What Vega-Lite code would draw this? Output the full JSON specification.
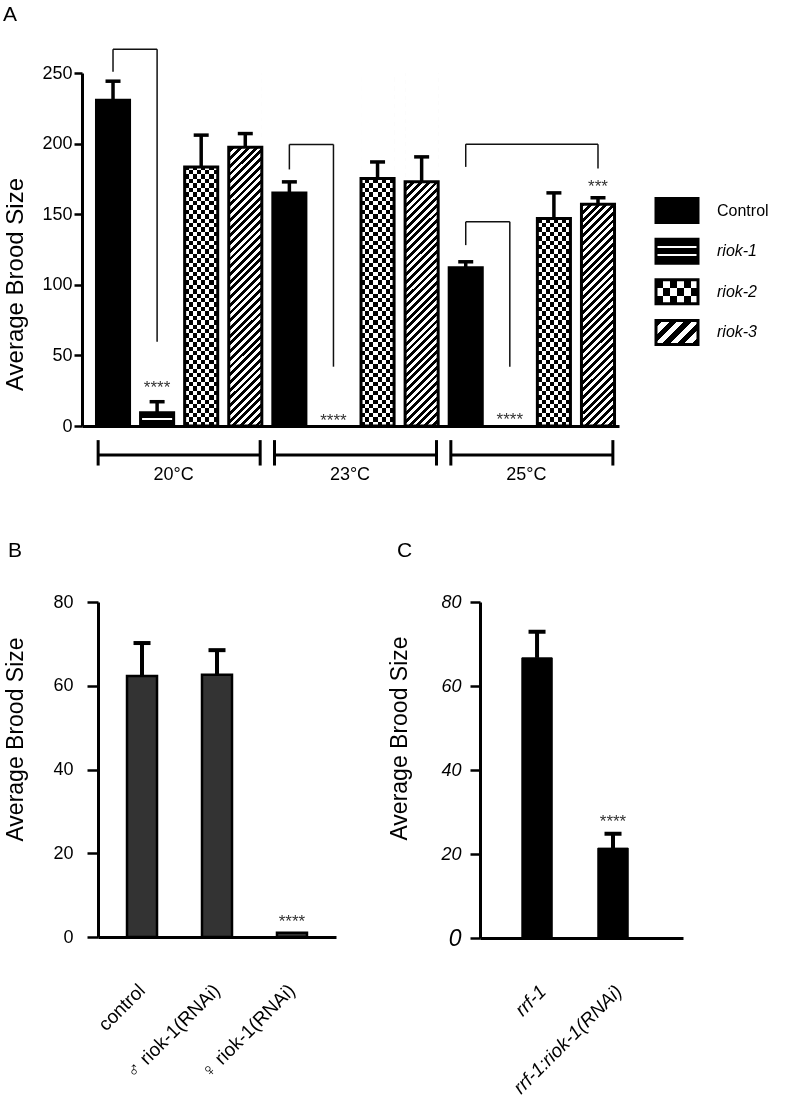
{
"$schema": "https://vega.github.io/schema/vega-lite/v6.json",
"background": "white",
"padding": {"left": 2, "top": 3, "right": 0, "bottom": 0},
"config": {
  "font": "Liberation Sans",
  "view": {"stroke": null},
  "axis": {"grid": false, "domainColor": "#000", "tickColor": "#000", "labelColor": "#000", "titleColor": "#000", "titleFontWeight": "normal", "labelFont": "Liberation Sans", "titleFont": "Liberation Sans"},
  "title": {"font": "Liberation Sans", "fontWeight": "normal", "color": "#000"}
},
"datasets": {
  "barsA": [
    {"bar": "20 Control", "series": "Control", "v": 230.7, "e": 244.2},
    {"bar": "20 riok-1", "series": "riok-1", "v": 9.4, "e": 17.2},
    {"bar": "20 riok-2", "series": "riok-2", "v": 183.5, "e": 206.0},
    {"bar": "20 riok-3", "series": "riok-3", "v": 197.4, "e": 207.1},
    {"bar": "23 Control", "series": "Control", "v": 165.1, "e": 172.9},
    {"bar": "23 riok-1", "series": "riok-1", "v": 0, "e": null},
    {"bar": "23 riok-2", "series": "riok-2", "v": 175.3, "e": 187.0},
    {"bar": "23 riok-3", "series": "riok-3", "v": 172.9, "e": 190.6},
    {"bar": "25 Control", "series": "Control", "v": 112.0, "e": 116.3},
    {"bar": "25 riok-1", "series": "riok-1", "v": 0, "e": null},
    {"bar": "25 riok-2", "series": "riok-2", "v": 147.0, "e": 165.1},
    {"bar": "25 riok-3", "series": "riok-3", "v": 157.1, "e": 161.6}
  ],
  "sigA": [
    {"bar": "20 riok-1", "y": 30.6, "t": "****"},
    {"bar": "23 riok-1", "y": 7.1, "t": "****"},
    {"bar": "25 riok-1", "y": 7.8, "t": "****"},
    {"bar": "25 riok-3", "y": 172.9, "t": "***"}
  ],
  "bracketsA": [
    {"a": "20 Control", "b": "20 riok-1", "ya": 250.9, "yt": 266.8, "yb": 59.7},
    {"a": "23 Control", "b": "23 riok-1", "ya": 181.7, "yt": 199.4, "yb": 42.0},
    {"a": "25 Control", "b": "25 riok-1", "ya": 128.1, "yt": 144.6, "yb": 42.0},
    {"a": "25 Control", "b": "25 riok-3", "ya": 183.5, "yt": 199.6, "yb": 182.4}
  ],
  "groupsA": [
    {"g": "20°C", "a": "20 Control", "m": "20 riok-1", "b": "20 riok-3"},
    {"g": "23°C", "a": "23 Control", "m": "23 riok-1", "b": "23 riok-3"},
    {"g": "25°C", "a": "25 Control", "m": "25 riok-1", "b": "25 riok-3"}
  ],
  "legend": [
    {"series": "Control", "idx": 1},
    {"series": "riok-1", "idx": 2},
    {"series": "riok-2", "idx": 3},
    {"series": "riok-3", "idx": 4}
  ],
  "barsB": [
    {"g": "control", "v": 62.3, "e": 70.2},
    {"g": "♂ riok-1(RNAi)", "v": 62.6, "e": 68.5},
    {"g": "♀ riok-1(RNAi)", "v": 1.0, "e": null, "sig": "****", "sy": 4.8}
  ],
  "barsC": [
    {"g": "rrf-1", "v": 66.7, "e": 72.9},
    {"g": "rrf-1:riok-1(RNAi)", "v": 21.4, "e": 24.8, "sig": "****", "sy": 28.8}
  ]
},
"spacing": 56,
"vconcat": [
  {
    "spacing": 0,
    "hconcat": [
      {"width": 1, "height": 1, "data": {"values": []}, "mark": "point"},
      {
        "spacing": 35,
        "hconcat": [
          {
            "width": 537,
            "height": 353,
            "title": {"text": "A", "anchor": "start", "frame": "group", "dx": -79, "offset": 24, "fontSize": 21},
            "layer": [
              {
                "data": {"name": "barsA"},
                "transform": [{"filter": "datum.series === 'Control'"}],
                "mark": {"type": "bar", "fill": "#000", "stroke": "#000", "strokeWidth": 1, "opacity": 1},
                "encoding": {
                  "x": {"field": "bar", "type": "nominal",
                        "scale": {"domain": ["20 Control", "20 riok-1", "20 riok-2", "20 riok-3", "23 Control", "23 riok-1", "23 riok-2", "23 riok-3", "25 Control", "25 riok-1", "25 riok-2", "25 riok-3"], "paddingInner": 0.25, "paddingOuter": 0.215, "align": 0.764},
                        "axis": {"title": null, "labels": false, "ticks": false, "domainWidth": 3}},
                  "y": {"field": "v", "type": "quantitative",
                        "scale": {"domain": [0, 250], "nice": false},
                        "axis": {"values": [0, 50, 100, 150, 200, 250], "title": "Average Brood Size", "titleFontSize": 24, "titleX": -60, "titleY": 211, "titleBaseline": "alphabetic", "titleAlign": "center", "labelFontSize": 18, "labelPadding": 2, "tickSize": 8, "tickWidth": 2.5, "domainWidth": 3}}
                }
              },
              {
                "data": {"name": "barsA"},
                "transform": [{"filter": "datum.series === 'riok-1' && datum.v > 0"}],
                "mark": {"type": "bar", "opacity": 1, "fill": {"gradient": "linear", "x1": 0, "y1": 0, "x2": 0, "y2": 1, "stops": [{"offset": 0, "color": "#000"}, {"offset": 0.42, "color": "#000"}, {"offset": 0.42, "color": "#fff"}, {"offset": 0.56, "color": "#fff"}, {"offset": 0.56, "color": "#000"}, {"offset": 1, "color": "#000"}]}},
                "encoding": {"x": {"field": "bar", "type": "nominal"}, "y": {"field": "v", "type": "quantitative"}}
              },
              {
                "data": {"name": "barsA"},
                "transform": [{"filter": "datum.series === 'riok-2'"}],
                "mark": {"type": "bar", "opacity": 1, "fill": {"gradient": "linear", "x1": 0, "y1": 0, "x2": 1, "y2": 0, "stops": [
                  {"offset": 0, "color": "#fff"}, {"offset": 0.125, "color": "#fff"}, {"offset": 0.125, "color": "#000"}, {"offset": 0.25, "color": "#000"},
                  {"offset": 0.25, "color": "#fff"}, {"offset": 0.375, "color": "#fff"}, {"offset": 0.375, "color": "#000"}, {"offset": 0.5, "color": "#000"},
                  {"offset": 0.5, "color": "#fff"}, {"offset": 0.625, "color": "#fff"}, {"offset": 0.625, "color": "#000"}, {"offset": 0.75, "color": "#000"},
                  {"offset": 0.75, "color": "#fff"}, {"offset": 0.875, "color": "#fff"}, {"offset": 0.875, "color": "#000"}, {"offset": 1, "color": "#000"}]}},
                "encoding": {"x": {"field": "bar", "type": "nominal"}, "y": {"field": "v", "type": "quantitative"}}
              },
              {
                "data": {"name": "barsA"},
                "transform": [{"filter": "datum.series === 'riok-2'"}],
                "mark": {"type": "rect", "opacity": 1, "blend": "difference", "fill": {"gradient": "linear", "x1": 0, "y1": 0, "x2": 0, "y2": 1, "stops": [
{"offset":0,"color":"#000"},{"offset":0.0125,"color":"#000"},{"offset":0.0125,"color":"#fff"},{"offset":0.025,"color":"#fff"},
{"offset":0.025,"color":"#000"},{"offset":0.0375,"color":"#000"},{"offset":0.0375,"color":"#fff"},{"offset":0.05,"color":"#fff"},
{"offset":0.05,"color":"#000"},{"offset":0.0625,"color":"#000"},{"offset":0.0625,"color":"#fff"},{"offset":0.075,"color":"#fff"},
{"offset":0.075,"color":"#000"},{"offset":0.0875,"color":"#000"},{"offset":0.0875,"color":"#fff"},{"offset":0.1,"color":"#fff"},
{"offset":0.1,"color":"#000"},{"offset":0.1125,"color":"#000"},{"offset":0.1125,"color":"#fff"},{"offset":0.125,"color":"#fff"},
{"offset":0.125,"color":"#000"},{"offset":0.1375,"color":"#000"},{"offset":0.1375,"color":"#fff"},{"offset":0.15,"color":"#fff"},
{"offset":0.15,"color":"#000"},{"offset":0.1625,"color":"#000"},{"offset":0.1625,"color":"#fff"},{"offset":0.175,"color":"#fff"},
{"offset":0.175,"color":"#000"},{"offset":0.1875,"color":"#000"},{"offset":0.1875,"color":"#fff"},{"offset":0.2,"color":"#fff"},
{"offset":0.2,"color":"#000"},{"offset":0.2125,"color":"#000"},{"offset":0.2125,"color":"#fff"},{"offset":0.225,"color":"#fff"},
{"offset":0.225,"color":"#000"},{"offset":0.2375,"color":"#000"},{"offset":0.2375,"color":"#fff"},{"offset":0.25,"color":"#fff"},
{"offset":0.25,"color":"#000"},{"offset":0.2625,"color":"#000"},{"offset":0.2625,"color":"#fff"},{"offset":0.275,"color":"#fff"},
{"offset":0.275,"color":"#000"},{"offset":0.2875,"color":"#000"},{"offset":0.2875,"color":"#fff"},{"offset":0.3,"color":"#fff"},
{"offset":0.3,"color":"#000"},{"offset":0.3125,"color":"#000"},{"offset":0.3125,"color":"#fff"},{"offset":0.325,"color":"#fff"},
{"offset":0.325,"color":"#000"},{"offset":0.3375,"color":"#000"},{"offset":0.3375,"color":"#fff"},{"offset":0.35,"color":"#fff"},
{"offset":0.35,"color":"#000"},{"offset":0.3625,"color":"#000"},{"offset":0.3625,"color":"#fff"},{"offset":0.375,"color":"#fff"},
{"offset":0.375,"color":"#000"},{"offset":0.3875,"color":"#000"},{"offset":0.3875,"color":"#fff"},{"offset":0.4,"color":"#fff"},
{"offset":0.4,"color":"#000"},{"offset":0.4125,"color":"#000"},{"offset":0.4125,"color":"#fff"},{"offset":0.425,"color":"#fff"},
{"offset":0.425,"color":"#000"},{"offset":0.4375,"color":"#000"},{"offset":0.4375,"color":"#fff"},{"offset":0.45,"color":"#fff"},
{"offset":0.45,"color":"#000"},{"offset":0.4625,"color":"#000"},{"offset":0.4625,"color":"#fff"},{"offset":0.475,"color":"#fff"},
{"offset":0.475,"color":"#000"},{"offset":0.4875,"color":"#000"},{"offset":0.4875,"color":"#fff"},{"offset":0.5,"color":"#fff"},
{"offset":0.5,"color":"#000"},{"offset":0.5125,"color":"#000"},{"offset":0.5125,"color":"#fff"},{"offset":0.525,"color":"#fff"},
{"offset":0.525,"color":"#000"},{"offset":0.5375,"color":"#000"},{"offset":0.5375,"color":"#fff"},{"offset":0.55,"color":"#fff"},
{"offset":0.55,"color":"#000"},{"offset":0.5625,"color":"#000"},{"offset":0.5625,"color":"#fff"},{"offset":0.575,"color":"#fff"},
{"offset":0.575,"color":"#000"},{"offset":0.5875,"color":"#000"},{"offset":0.5875,"color":"#fff"},{"offset":0.6,"color":"#fff"},
{"offset":0.6,"color":"#000"},{"offset":0.6125,"color":"#000"},{"offset":0.6125,"color":"#fff"},{"offset":0.625,"color":"#fff"},
{"offset":0.625,"color":"#000"},{"offset":0.6375,"color":"#000"},{"offset":0.6375,"color":"#fff"},{"offset":0.65,"color":"#fff"},
{"offset":0.65,"color":"#000"},{"offset":0.6625,"color":"#000"},{"offset":0.6625,"color":"#fff"},{"offset":0.675,"color":"#fff"},
{"offset":0.675,"color":"#000"},{"offset":0.6875,"color":"#000"},{"offset":0.6875,"color":"#fff"},{"offset":0.7,"color":"#fff"},
{"offset":0.7,"color":"#000"},{"offset":0.7125,"color":"#000"},{"offset":0.7125,"color":"#fff"},{"offset":0.725,"color":"#fff"},
{"offset":0.725,"color":"#000"},{"offset":0.7375,"color":"#000"},{"offset":0.7375,"color":"#fff"},{"offset":0.75,"color":"#fff"},
{"offset":0.75,"color":"#000"},{"offset":0.7625,"color":"#000"},{"offset":0.7625,"color":"#fff"},{"offset":0.775,"color":"#fff"},
{"offset":0.775,"color":"#000"},{"offset":0.7875,"color":"#000"},{"offset":0.7875,"color":"#fff"},{"offset":0.8,"color":"#fff"},
{"offset":0.8,"color":"#000"},{"offset":0.8125,"color":"#000"},{"offset":0.8125,"color":"#fff"},{"offset":0.825,"color":"#fff"},
{"offset":0.825,"color":"#000"},{"offset":0.8375,"color":"#000"},{"offset":0.8375,"color":"#fff"},{"offset":0.85,"color":"#fff"},
{"offset":0.85,"color":"#000"},{"offset":0.8625,"color":"#000"},{"offset":0.8625,"color":"#fff"},{"offset":0.875,"color":"#fff"},
{"offset":0.875,"color":"#000"},{"offset":0.8875,"color":"#000"},{"offset":0.8875,"color":"#fff"},{"offset":0.9,"color":"#fff"},
{"offset":0.9,"color":"#000"},{"offset":0.9125,"color":"#000"},{"offset":0.9125,"color":"#fff"},{"offset":0.925,"color":"#fff"},
{"offset":0.925,"color":"#000"},{"offset":0.9375,"color":"#000"},{"offset":0.9375,"color":"#fff"},{"offset":0.95,"color":"#fff"},
{"offset":0.95,"color":"#000"},{"offset":0.9625,"color":"#000"},{"offset":0.9625,"color":"#fff"},{"offset":0.975,"color":"#fff"},
{"offset":0.975,"color":"#000"},{"offset":0.9875,"color":"#000"},{"offset":0.9875,"color":"#fff"},{"offset":1,"color":"#fff"}]}},
                "encoding": {"x": {"field": "bar", "type": "nominal"}, "y": {"datum": 0, "type": "quantitative"}, "y2": {"datum": 250}}
              },
              {
                "data": {"name": "barsA"},
                "transform": [{"filter": "datum.series === 'riok-3'"}],
                "mark": {"type": "rect", "opacity": 1, "fill": {"gradient": "linear", "x1": 0, "y1": 0, "x2": 0.1013, "y2": 1.084, "stops": [
{"offset":0,"color":"#000"},{"offset":0.01,"color":"#000"},{"offset":0.01,"color":"#fff"},{"offset":0.02,"color":"#fff"},
{"offset":0.02,"color":"#000"},{"offset":0.03,"color":"#000"},{"offset":0.03,"color":"#fff"},{"offset":0.04,"color":"#fff"},
{"offset":0.04,"color":"#000"},{"offset":0.05,"color":"#000"},{"offset":0.05,"color":"#fff"},{"offset":0.06,"color":"#fff"},
{"offset":0.06,"color":"#000"},{"offset":0.07,"color":"#000"},{"offset":0.07,"color":"#fff"},{"offset":0.08,"color":"#fff"},
{"offset":0.08,"color":"#000"},{"offset":0.09,"color":"#000"},{"offset":0.09,"color":"#fff"},{"offset":0.1,"color":"#fff"},
{"offset":0.1,"color":"#000"},{"offset":0.11,"color":"#000"},{"offset":0.11,"color":"#fff"},{"offset":0.12,"color":"#fff"},
{"offset":0.12,"color":"#000"},{"offset":0.13,"color":"#000"},{"offset":0.13,"color":"#fff"},{"offset":0.14,"color":"#fff"},
{"offset":0.14,"color":"#000"},{"offset":0.15,"color":"#000"},{"offset":0.15,"color":"#fff"},{"offset":0.16,"color":"#fff"},
{"offset":0.16,"color":"#000"},{"offset":0.17,"color":"#000"},{"offset":0.17,"color":"#fff"},{"offset":0.18,"color":"#fff"},
{"offset":0.18,"color":"#000"},{"offset":0.19,"color":"#000"},{"offset":0.19,"color":"#fff"},{"offset":0.2,"color":"#fff"},
{"offset":0.2,"color":"#000"},{"offset":0.21,"color":"#000"},{"offset":0.21,"color":"#fff"},{"offset":0.22,"color":"#fff"},
{"offset":0.22,"color":"#000"},{"offset":0.23,"color":"#000"},{"offset":0.23,"color":"#fff"},{"offset":0.24,"color":"#fff"},
{"offset":0.24,"color":"#000"},{"offset":0.25,"color":"#000"},{"offset":0.25,"color":"#fff"},{"offset":0.26,"color":"#fff"},
{"offset":0.26,"color":"#000"},{"offset":0.27,"color":"#000"},{"offset":0.27,"color":"#fff"},{"offset":0.28,"color":"#fff"},
{"offset":0.28,"color":"#000"},{"offset":0.29,"color":"#000"},{"offset":0.29,"color":"#fff"},{"offset":0.3,"color":"#fff"},
{"offset":0.3,"color":"#000"},{"offset":0.31,"color":"#000"},{"offset":0.31,"color":"#fff"},{"offset":0.32,"color":"#fff"},
{"offset":0.32,"color":"#000"},{"offset":0.33,"color":"#000"},{"offset":0.33,"color":"#fff"},{"offset":0.34,"color":"#fff"},
{"offset":0.34,"color":"#000"},{"offset":0.35,"color":"#000"},{"offset":0.35,"color":"#fff"},{"offset":0.36,"color":"#fff"},
{"offset":0.36,"color":"#000"},{"offset":0.37,"color":"#000"},{"offset":0.37,"color":"#fff"},{"offset":0.38,"color":"#fff"},
{"offset":0.38,"color":"#000"},{"offset":0.39,"color":"#000"},{"offset":0.39,"color":"#fff"},{"offset":0.4,"color":"#fff"},
{"offset":0.4,"color":"#000"},{"offset":0.41,"color":"#000"},{"offset":0.41,"color":"#fff"},{"offset":0.42,"color":"#fff"},
{"offset":0.42,"color":"#000"},{"offset":0.43,"color":"#000"},{"offset":0.43,"color":"#fff"},{"offset":0.44,"color":"#fff"},
{"offset":0.44,"color":"#000"},{"offset":0.45,"color":"#000"},{"offset":0.45,"color":"#fff"},{"offset":0.46,"color":"#fff"},
{"offset":0.46,"color":"#000"},{"offset":0.47,"color":"#000"},{"offset":0.47,"color":"#fff"},{"offset":0.48,"color":"#fff"},
{"offset":0.48,"color":"#000"},{"offset":0.49,"color":"#000"},{"offset":0.49,"color":"#fff"},{"offset":0.5,"color":"#fff"},
{"offset":0.5,"color":"#000"},{"offset":0.51,"color":"#000"},{"offset":0.51,"color":"#fff"},{"offset":0.52,"color":"#fff"},
{"offset":0.52,"color":"#000"},{"offset":0.53,"color":"#000"},{"offset":0.53,"color":"#fff"},{"offset":0.54,"color":"#fff"},
{"offset":0.54,"color":"#000"},{"offset":0.55,"color":"#000"},{"offset":0.55,"color":"#fff"},{"offset":0.56,"color":"#fff"},
{"offset":0.56,"color":"#000"},{"offset":0.57,"color":"#000"},{"offset":0.57,"color":"#fff"},{"offset":0.58,"color":"#fff"},
{"offset":0.58,"color":"#000"},{"offset":0.59,"color":"#000"},{"offset":0.59,"color":"#fff"},{"offset":0.6,"color":"#fff"},
{"offset":0.6,"color":"#000"},{"offset":0.61,"color":"#000"},{"offset":0.61,"color":"#fff"},{"offset":0.62,"color":"#fff"},
{"offset":0.62,"color":"#000"},{"offset":0.63,"color":"#000"},{"offset":0.63,"color":"#fff"},{"offset":0.64,"color":"#fff"},
{"offset":0.64,"color":"#000"},{"offset":0.65,"color":"#000"},{"offset":0.65,"color":"#fff"},{"offset":0.66,"color":"#fff"},
{"offset":0.66,"color":"#000"},{"offset":0.67,"color":"#000"},{"offset":0.67,"color":"#fff"},{"offset":0.68,"color":"#fff"},
{"offset":0.68,"color":"#000"},{"offset":0.69,"color":"#000"},{"offset":0.69,"color":"#fff"},{"offset":0.7,"color":"#fff"},
{"offset":0.7,"color":"#000"},{"offset":0.71,"color":"#000"},{"offset":0.71,"color":"#fff"},{"offset":0.72,"color":"#fff"},
{"offset":0.72,"color":"#000"},{"offset":0.73,"color":"#000"},{"offset":0.73,"color":"#fff"},{"offset":0.74,"color":"#fff"},
{"offset":0.74,"color":"#000"},{"offset":0.75,"color":"#000"},{"offset":0.75,"color":"#fff"},{"offset":0.76,"color":"#fff"},
{"offset":0.76,"color":"#000"},{"offset":0.77,"color":"#000"},{"offset":0.77,"color":"#fff"},{"offset":0.78,"color":"#fff"},
{"offset":0.78,"color":"#000"},{"offset":0.79,"color":"#000"},{"offset":0.79,"color":"#fff"},{"offset":0.8,"color":"#fff"},
{"offset":0.8,"color":"#000"},{"offset":0.81,"color":"#000"},{"offset":0.81,"color":"#fff"},{"offset":0.82,"color":"#fff"},
{"offset":0.82,"color":"#000"},{"offset":0.83,"color":"#000"},{"offset":0.83,"color":"#fff"},{"offset":0.84,"color":"#fff"},
{"offset":0.84,"color":"#000"},{"offset":0.85,"color":"#000"},{"offset":0.85,"color":"#fff"},{"offset":0.86,"color":"#fff"},
{"offset":0.86,"color":"#000"},{"offset":0.87,"color":"#000"},{"offset":0.87,"color":"#fff"},{"offset":0.88,"color":"#fff"},
{"offset":0.88,"color":"#000"},{"offset":0.89,"color":"#000"},{"offset":0.89,"color":"#fff"},{"offset":0.9,"color":"#fff"},
{"offset":0.9,"color":"#000"},{"offset":0.91,"color":"#000"},{"offset":0.91,"color":"#fff"},{"offset":0.92,"color":"#fff"},
{"offset":0.92,"color":"#000"},{"offset":0.93,"color":"#000"},{"offset":0.93,"color":"#fff"},{"offset":0.94,"color":"#fff"},
{"offset":0.94,"color":"#000"},{"offset":0.95,"color":"#000"},{"offset":0.95,"color":"#fff"},{"offset":0.96,"color":"#fff"},
{"offset":0.96,"color":"#000"},{"offset":0.97,"color":"#000"},{"offset":0.97,"color":"#fff"},{"offset":0.98,"color":"#fff"},
{"offset":0.98,"color":"#000"},{"offset":0.99,"color":"#000"},{"offset":0.99,"color":"#fff"},{"offset":1,"color":"#fff"}]}},
                "encoding": {"x": {"field": "bar", "type": "nominal"}, "y": {"datum": 0, "type": "quantitative"}, "y2": {"datum": 250}}
              },
              {
                "data": {"name": "barsA"},
                "transform": [{"filter": "datum.series === 'riok-2' || datum.series === 'riok-3'"}],
                "mark": {"type": "rect", "opacity": 1, "fill": "#fff", "stroke": "#fff", "strokeWidth": 1.5},
                "encoding": {"x": {"field": "bar", "type": "nominal"}, "y": {"field": "v", "type": "quantitative"}, "y2": {"datum": 251}}
              },
              {
                "data": {"name": "barsA"},
                "transform": [{"filter": "datum.v > 0"}],
                "mark": {"type": "bar", "opacity": 1, "fill": "transparent", "stroke": "#000", "strokeWidth": 3},
                "encoding": {"x": {"field": "bar", "type": "nominal"}, "y": {"field": "v", "type": "quantitative"}}
              },
              {
                "data": {"name": "barsA"},
                "transform": [{"filter": "datum.e != null"}],
                "mark": {"type": "rule", "color": "#000", "strokeWidth": 3.5},
                "encoding": {"x": {"field": "bar", "type": "nominal"}, "y": {"field": "v", "type": "quantitative"}, "y2": {"field": "e"}}
              },
              {
                "data": {"name": "barsA"},
                "transform": [{"filter": "datum.e != null"}],
                "mark": {"type": "tick", "orient": "horizontal", "color": "#000", "opacity": 1, "size": 15, "thickness": 3.5},
                "encoding": {"x": {"field": "bar", "type": "nominal"}, "y": {"field": "e", "type": "quantitative"}}
              },
              {
                "data": {"name": "bracketsA"},
                "mark": {"type": "rule", "color": "#111", "strokeWidth": 1.5},
                "encoding": {"x": {"field": "a", "type": "nominal"}, "y": {"field": "ya", "type": "quantitative"}, "y2": {"field": "yt"}}
              },
              {
                "data": {"name": "bracketsA"},
                "mark": {"type": "rule", "color": "#111", "strokeWidth": 1.5},
                "encoding": {"x": {"field": "a", "type": "nominal"}, "x2": {"field": "b"}, "y": {"field": "yt", "type": "quantitative"}}
              },
              {
                "data": {"name": "bracketsA"},
                "mark": {"type": "rule", "color": "#111", "strokeWidth": 1.5},
                "encoding": {"x": {"field": "b", "type": "nominal"}, "y": {"field": "yb", "type": "quantitative"}, "y2": {"field": "yt"}}
              },
              {
                "data": {"name": "sigA"},
                "mark": {"type": "text", "fontSize": 17, "color": "#333", "baseline": "middle", "dy": 5},
                "encoding": {"x": {"field": "bar", "type": "nominal"}, "y": {"field": "y", "type": "quantitative"}, "text": {"field": "t"}}
              },
              {
                "data": {"name": "groupsA"},
                "mark": {"type": "rule", "color": "#000", "strokeWidth": 3},
                "encoding": {"x": {"field": "a", "type": "nominal", "bandPosition": 0.05}, "x2": {"field": "b", "bandPosition": 0.95}, "y": {"datum": -20.5, "type": "quantitative"}}
              },
              {
                "data": {"name": "groupsA"},
                "mark": {"type": "rule", "color": "#000", "strokeWidth": 3},
                "encoding": {"x": {"field": "a", "type": "nominal", "bandPosition": 0.05}, "y": {"datum": -10, "type": "quantitative"}, "y2": {"datum": -28}}
              },
              {
                "data": {"name": "groupsA"},
                "mark": {"type": "rule", "color": "#000", "strokeWidth": 3},
                "encoding": {"x": {"field": "b", "type": "nominal", "bandPosition": 0.95}, "y": {"datum": -10, "type": "quantitative"}, "y2": {"datum": -28}}
              },
              {
                "data": {"name": "groupsA"},
                "mark": {"type": "text", "fontSize": 18, "color": "#000", "baseline": "top"},
                "encoding": {"x": {"field": "m", "type": "nominal", "bandPosition": 1}, "y": {"datum": -28, "type": "quantitative"}, "text": {"field": "g"}}
              }
            ]
          },
          {
            "width": 42,
            "height": 300,
            "data": {"name": "legend"},
            "encoding": {
              "x": {"datum": 0.5, "type": "quantitative", "scale": {"domain": [0, 1]}, "axis": null},
              "y": {"field": "idx", "type": "quantitative", "scale": {"domain": [-2.389, 5.0], "reverse": true, "nice": false, "zero": false}, "axis": null}
            },
            "layer": [
              {
                "transform": [{"filter": "datum.series === 'Control'"}],
                "mark": {"type": "tick", "orient": "horizontal", "size": 42, "thickness": 24, "opacity": 1, "fill": "#000"}
              },
              {
                "transform": [{"filter": "datum.series === 'riok-1'"}],
                "mark": {"type": "tick", "orient": "horizontal", "size": 42, "thickness": 24, "opacity": 1, "fill": {"gradient": "linear", "x1": 0, "y1": 0, "x2": 0, "y2": 1, "stops": [{"offset": 0, "color": "#000"}, {"offset": 0.3, "color": "#000"}, {"offset": 0.3, "color": "#fff"}, {"offset": 0.38, "color": "#fff"}, {"offset": 0.38, "color": "#000"}, {"offset": 0.62, "color": "#000"}, {"offset": 0.62, "color": "#fff"}, {"offset": 0.7, "color": "#fff"}, {"offset": 0.7, "color": "#000"}, {"offset": 1, "color": "#000"}]}}
              },
              {
                "transform": [{"filter": "datum.series === 'riok-2'"}],
                "mark": {"type": "tick", "orient": "horizontal", "size": 42, "thickness": 24, "opacity": 1, "fill": {"gradient": "linear", "x1": 0, "y1": 0, "x2": 1, "y2": 0, "stops": [{"offset": 0, "color": "#000"}, {"offset": 0.1667, "color": "#000"}, {"offset": 0.1667, "color": "#fff"}, {"offset": 0.3333, "color": "#fff"}, {"offset": 0.3333, "color": "#000"}, {"offset": 0.5, "color": "#000"}, {"offset": 0.5, "color": "#fff"}, {"offset": 0.6667, "color": "#fff"}, {"offset": 0.6667, "color": "#000"}, {"offset": 0.8333, "color": "#000"}, {"offset": 0.8333, "color": "#fff"}, {"offset": 1, "color": "#fff"}]}}
              },
              {
                "transform": [{"filter": "datum.series === 'riok-2'"}],
                "mark": {"type": "tick", "orient": "horizontal", "size": 42, "thickness": 24, "opacity": 1, "blend": "difference", "fill": {"gradient": "linear", "x1": 0, "y1": 0, "x2": 0, "y2": 1, "stops": [{"offset": 0, "color": "#000"}, {"offset": 0.3333, "color": "#000"}, {"offset": 0.3333, "color": "#fff"}, {"offset": 0.6667, "color": "#fff"}, {"offset": 0.6667, "color": "#000"}, {"offset": 1, "color": "#000"}]}}
              },
              {
                "transform": [{"filter": "datum.series === 'riok-3'"}],
                "mark": {"type": "tick", "orient": "horizontal", "size": 42, "thickness": 24, "opacity": 1, "fill": {"gradient": "linear", "x1": 0, "y1": 0, "x2": 1.1846, "y2": 0.6769, "stops": [{"offset": 0, "color": "#000"}, {"offset": 0.1111, "color": "#000"}, {"offset": 0.1111, "color": "#fff"}, {"offset": 0.2222, "color": "#fff"}, {"offset": 0.2222, "color": "#000"}, {"offset": 0.3333, "color": "#000"}, {"offset": 0.3333, "color": "#fff"}, {"offset": 0.4444, "color": "#fff"}, {"offset": 0.4444, "color": "#000"}, {"offset": 0.5556, "color": "#000"}, {"offset": 0.5556, "color": "#fff"}, {"offset": 0.6667, "color": "#fff"}, {"offset": 0.6667, "color": "#000"}, {"offset": 0.7778, "color": "#000"}, {"offset": 0.7778, "color": "#fff"}, {"offset": 0.8889, "color": "#fff"}, {"offset": 0.8889, "color": "#000"}, {"offset": 1, "color": "#000"}]}}
              },
              {
                "mark": {"type": "tick", "orient": "horizontal", "size": 42, "thickness": 24, "opacity": 1, "fill": "transparent", "stroke": "#000", "strokeWidth": 3}
              },
              {
                "transform": [{"filter": "datum.series === 'Control'"}],
                "mark": {"type": "text", "align": "left", "baseline": "middle", "dx": 40, "fontSize": 16, "color": "#000"},
                "encoding": {"text": {"field": "series"}}
              },
              {
                "transform": [{"filter": "datum.series !== 'Control'"}],
                "mark": {"type": "text", "align": "left", "baseline": "middle", "dx": 40, "fontSize": 16, "fontStyle": "italic", "color": "#000"},
                "encoding": {"text": {"field": "series"}}
              }
            ]
          }
        ]
      }
    ]
  },
  {
    "spacing": 0,
    "hconcat": [
      {"width": 1, "height": 1, "data": {"values": []}, "mark": "point"},
      {
        "spacing": 51,
        "hconcat": [
          {
            "width": 238,
            "height": 335,
            "title": {"text": "B", "anchor": "start", "frame": "group", "dx": -90, "offset": 32, "fontSize": 21},
            "data": {"name": "barsB"},
            "encoding": {
              "x": {"field": "g", "type": "nominal",
                    "scale": {"domain": ["control", "♂ riok-1(RNAi)", "♀ riok-1(RNAi)"], "paddingInner": 0.6, "paddingOuter": 0.387},
                    "axis": {"title": null, "ticks": false, "domainWidth": 3, "labelAngle": -45, "labelAlign": "right", "labelBaseline": "middle", "labelPadding": 50, "labelOffset": 0, "labelFontSize": 19}}
            },
            "layer": [
              {
                "mark": {"type": "bar", "opacity": 1, "fill": "#333", "stroke": "#000", "strokeWidth": 2.5},
                "encoding": {"y": {"field": "v", "type": "quantitative",
                    "scale": {"domain": [0, 80], "nice": false},
                    "axis": {"values": [0, 20, 40, 60, 80], "title": "Average Brood Size", "titleFontSize": 23, "titleX": -76, "titleY": 137, "titleBaseline": "alphabetic", "titleAlign": "center", "labelFontSize": 18, "labelPadding": 14, "tickSize": 11, "tickWidth": 2.5, "domainWidth": 3}}}
              },
              {
                "transform": [{"filter": "datum.e != null"}],
                "mark": {"type": "rule", "color": "#000", "strokeWidth": 4},
                "encoding": {"y": {"field": "v", "type": "quantitative"}, "y2": {"field": "e"}}
              },
              {
                "transform": [{"filter": "datum.e != null"}],
                "mark": {"type": "tick", "orient": "horizontal", "color": "#000", "opacity": 1, "size": 17, "thickness": 4},
                "encoding": {"y": {"field": "e", "type": "quantitative"}}
              },
              {
                "transform": [{"filter": "datum.sig != null"}],
                "mark": {"type": "text", "fontSize": 17, "color": "#333", "baseline": "middle", "dy": 5},
                "encoding": {"y": {"field": "sy", "type": "quantitative"}, "text": {"field": "sig"}}
              }
            ]
          },
          {
            "width": 203,
            "height": 336,
            "title": {"text": "C", "anchor": "start", "frame": "group", "dx": -83, "offset": 32, "fontSize": 21},
            "data": {"name": "barsC"},
            "encoding": {
              "x": {"field": "g", "type": "nominal",
                    "scale": {"domain": ["rrf-1", "rrf-1:riok-1(RNAi)"], "paddingInner": 0.6, "paddingOuter": 0.636, "align": 0.433},
                    "axis": {"title": null, "ticks": false, "domainWidth": 3, "labelAngle": -45, "labelAlign": "right", "labelBaseline": "middle", "labelPadding": 50, "labelOffset": 6, "labelFontSize": 19, "labelFontStyle": "italic"}}
            },
            "layer": [
              {
                "mark": {"type": "bar", "opacity": 1, "fill": "#000", "stroke": "#000", "strokeWidth": 1},
                "encoding": {"y": {"field": "v", "type": "quantitative",
                    "scale": {"domain": [0, 80], "nice": false},
                    "axis": {"values": [0, 20, 40, 60, 80], "title": "Average Brood Size", "titleFontSize": 23, "titleX": -74, "titleY": 136, "titleBaseline": "alphabetic", "titleAlign": "center", "labelFontSize": {"condition": {"test": "datum.value === 0", "value": 23}, "value": 18}, "labelFontStyle": "italic", "labelPadding": 9, "tickSize": 10, "tickWidth": 2.5, "domainWidth": 3}}}
              },
              {
                "transform": [{"filter": "datum.e != null"}],
                "mark": {"type": "rule", "color": "#000", "strokeWidth": 4},
                "encoding": {"y": {"field": "v", "type": "quantitative"}, "y2": {"field": "e"}}
              },
              {
                "transform": [{"filter": "datum.e != null"}],
                "mark": {"type": "tick", "orient": "horizontal", "color": "#000", "opacity": 1, "size": 17, "thickness": 4},
                "encoding": {"y": {"field": "e", "type": "quantitative"}}
              },
              {
                "transform": [{"filter": "datum.sig != null"}],
                "mark": {"type": "text", "fontSize": 17, "color": "#333", "baseline": "middle", "dy": 5},
                "encoding": {"y": {"field": "sy", "type": "quantitative"}, "text": {"field": "sig"}}
              }
            ]
          }
        ]
      }
    ]
  }
]
}
